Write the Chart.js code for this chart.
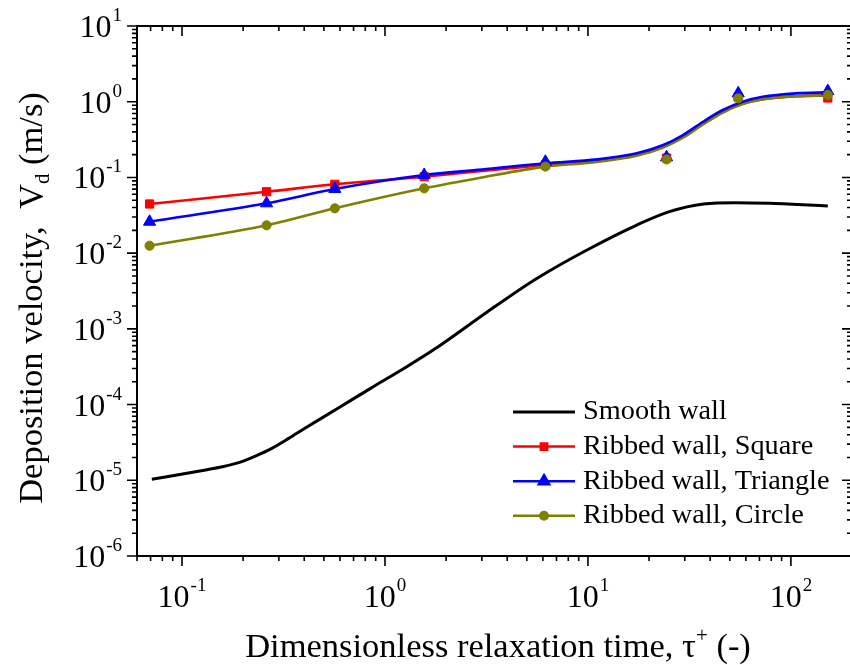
<!DOCTYPE html>
<html>
<head>
<meta charset="utf-8">
<script src="https://cdn.jsdelivr.net/npm/chart.js@4.4.1/dist/chart.umd.min.js"></script>
<style>
  html, body { margin: 0; padding: 0; background: #fff; overflow: hidden; }
  #wrap { width: 850px; height: 665px; overflow: hidden; }
  #chart { display: block; width: 860px; height: 665px; }
</style>
</head>
<body>
<div id="wrap"><canvas id="chart" width="860" height="665"></canvas></div>
<script>
// smooth wall curve
const tauSmooth = [0.071, 0.1306, 0.158, 0.19, 0.23, 0.277, 0.334, 0.405, 0.589, 0.853, 1.25, 1.82, 3.2, 5.62, 9.89, 17.4, 25.2, 37.1, 53.7, 78, 114.5, 152];
const vdSmooth  = [1.03e-5, 1.37e-5, 1.51e-5, 1.71e-5, 2.09e-5, 2.64e-5, 3.55e-5, 4.9e-5, 9.0e-5, 1.65e-4, 3.04e-4, 5.75e-4, 1.68e-3, 4.65e-3, 0.011, 0.0235, 0.0353, 0.0446, 0.0464, 0.0455, 0.0436, 0.0419];

// ribbed wall fitted curves
const tauRibCurve     = [0.0692, 0.261, 0.566, 1.56, 3.0, 6.17, 11.1, 17.4, 23.5, 29.4, 36.9, 46.2, 57.9, 72.6, 106, 152];
const vdSquareCurve   = [0.0446, 0.0647, 0.0811, 0.102, 0.122, 0.146, 0.165, 0.198, 0.255, 0.345, 0.51, 0.73, 0.94, 1.08, 1.18, 1.21];
const vdTriangleCurve = [0.026, 0.0455, 0.0703, 0.1076, 0.127, 0.154, 0.173, 0.208, 0.268, 0.363, 0.544, 0.777, 1.0, 1.16, 1.29, 1.33];
const vdCircleCurve   = [0.01253, 0.0233, 0.0391, 0.0718, 0.1, 0.139, 0.16, 0.193, 0.248, 0.335, 0.5, 0.72, 0.93, 1.07, 1.18, 1.21];

// ribbed wall data points
const tauRib     = [0.0692, 0.261, 0.566, 1.56, 6.17, 24.4, 55, 152];
const vdSquare   = [0.0446, 0.0647, 0.0811, 0.102, 0.146, 0.18, 1.15, 1.12];
const vdTriangle = [0.026, 0.0455, 0.0703, 0.1076, 0.161, 0.1845, 1.29, 1.38];
const vdCircle   = [0.01253, 0.0233, 0.0391, 0.0718, 0.139, 0.173, 1.11, 1.23];

const xTickValues = [0.1, 1, 10, 100];
const yTickValues = [1e-6, 1e-5, 1e-4, 1e-3, 1e-2, 1e-1, 1, 10];

const RED = '#ff0000', BLUE = '#0000ff', OLIVE = '#808000';
const serif = '"Liberation Serif", "Times New Roman", serif';

const pts = (xs, ys) => xs.map((x, i) => ({x: x, y: ys[i]}));
const expOf = v => String(Math.round(Math.log10(v)));

// all 1..9 x 10^n positions between min and max, for the tick marks
function decadeTicks(min, max) {
  const out = [];
  for (let e = Math.floor(Math.log10(min)); e <= Math.ceil(Math.log10(max)); e++) {
    for (let m = 1; m <= 9; m++) {
      const v = m * Math.pow(10, e);
      if (v >= min * 0.999999 && v <= max * 1.000001) out.push({v: v, major: m === 1});
    }
  }
  return out;
}

const legendItems = [
  {text: 'Smooth wall', color: '#000', style: false},
  {text: 'Ribbed wall, Square', color: RED, style: 'rect', r: 4.5},
  {text: 'Ribbed wall, Triangle', color: BLUE, style: 'triangle', r: 6},
  {text: 'Ribbed wall, Circle', color: OLIVE, style: 'circle', r: 3.8}
];

const BASE_FONT = '32px ' + serif, EXP_FONT = '19px ' + serif;

// "10" with a raised exponent; align: 'center' or 'right' about px
function powerLabel(ctx, v, px, baseline, align) {
  const e = expOf(v);
  ctx.font = BASE_FONT;
  const w1 = ctx.measureText('10').width;
  ctx.font = EXP_FONT;
  const w2 = ctx.measureText(e).width;
  const x0 = align === 'right' ? px - w1 - w2 - 1 : px - (w1 + w2 + 1) / 2;
  ctx.font = BASE_FONT;
  ctx.fillText('10', x0, baseline);
  ctx.font = EXP_FONT;
  ctx.fillText(e, x0 + w1 + 1, baseline - 16);
}

function drawParts(ctx, parts, cx, base) {
  let w = 0;
  parts.forEach(p => { ctx.font = p[1]; w += ctx.measureText(p[0]).width; });
  let px = cx - w / 2;
  parts.forEach(p => {
    ctx.font = p[1];
    ctx.fillText(p[0], px, base + p[2]);
    px += ctx.measureText(p[0]).width;
  });
}

const decor = {
  id: 'decor',
  afterDraw(chart) {
    const ctx = chart.ctx;
    const a = chart.chartArea;
    const x = chart.scales.x, y = chart.scales.y;
    ctx.save();
    ctx.strokeStyle = '#000';
    ctx.lineWidth = 2;
    ctx.strokeRect(a.left, a.top, a.right - a.left, a.bottom - a.top);

    ctx.lineWidth = 1.6;
    ctx.beginPath();
    decadeTicks(x.min, x.max).forEach(t => {
      const px = x.getPixelForValue(t.v);
      const len = t.major ? 10 : 5;
      ctx.moveTo(px, a.bottom); ctx.lineTo(px, a.bottom + len);
      ctx.moveTo(px, a.top); ctx.lineTo(px, a.top + len);
    });
    decadeTicks(y.min, y.max).forEach(t => {
      const py = y.getPixelForValue(t.v);
      const len = t.major ? 10 : 5;
      ctx.moveTo(a.left, py); ctx.lineTo(a.left - len, py);
      ctx.moveTo(a.right, py); ctx.lineTo(a.right - len, py);
    });
    ctx.stroke();

    // tick labels
    ctx.fillStyle = '#000';
    ctx.textAlign = 'left';
    ctx.textBaseline = 'alphabetic';
    xTickValues.forEach(v => powerLabel(ctx, v, x.getPixelForValue(v), a.bottom + 51, 'center'));
    yTickValues.forEach(v => powerLabel(ctx, v, a.left - 15, y.getPixelForValue(v) + 11, 'right'));

    // legend
    ctx.font = '28.3px ' + serif;
    ctx.textBaseline = 'middle';
    legendItems.forEach((it, i) => {
      const ly = 412 + i * 34.6;
      ctx.strokeStyle = it.color;
      ctx.lineWidth = it.style ? 2.5 : 3;
      ctx.beginPath();
      ctx.moveTo(513, ly); ctx.lineTo(575, ly);
      ctx.stroke();
      if (it.style) {
        ctx.fillStyle = it.color;
        Chart.helpers.drawPoint(ctx, {pointStyle: it.style, radius: it.r, rotation: 0, borderWidth: 1}, 544, ly);
        ctx.fill();
      }
      ctx.fillStyle = '#000';
      ctx.fillText(it.text, 583, ly);
    });

    // x title with superscript
    ctx.textBaseline = 'alphabetic';
    const big = '34.5px ' + serif, small = '21px ' + serif;
    drawParts(ctx, [['Dimensionless relaxation time, \u03C4', big, 0], ['+', small, -15], [' (-)', big, 0]], 498, 657);

    // y title with subscript, rotated
    ctx.translate(42, 298);
    ctx.rotate(-Math.PI / 2);
    drawParts(ctx, [['Deposition velocity,  V', big, 0], ['d', small, 7], [' (m/s)', big, 0]], 0, 0);
    ctx.restore();
  }
};

new Chart(document.getElementById('chart').getContext('2d'), {
  type: 'scatter',
  data: {
    datasets: [
      {label: 'Ribbed wall, Circle', data: pts(tauRib, vdCircle), showLine: false,
        pointStyle: 'circle', pointRadius: 4.6, backgroundColor: OLIVE, borderColor: OLIVE, order: 0},
      {label: 'Ribbed wall, Triangle', data: pts(tauRib, vdTriangle), showLine: false,
        pointStyle: 'triangle', pointRadius: 7, backgroundColor: BLUE, borderColor: BLUE, order: 1},
      {label: 'Ribbed wall, Square', data: pts(tauRib, vdSquare), showLine: false,
        pointStyle: 'rect', pointRadius: 5.8, backgroundColor: RED, borderColor: RED, order: 2},
      {label: 'Triangle fit', data: pts(tauRibCurve, vdTriangleCurve), showLine: true, pointRadius: 0,
        borderColor: BLUE, borderWidth: 2.6, cubicInterpolationMode: 'monotone', order: 3},
      {label: 'Circle fit', data: pts(tauRibCurve, vdCircleCurve), showLine: true, pointRadius: 0,
        borderColor: OLIVE, borderWidth: 2.6, cubicInterpolationMode: 'monotone', order: 4},
      {label: 'Square fit', data: pts(tauRibCurve, vdSquareCurve), showLine: true, pointRadius: 0,
        borderColor: RED, borderWidth: 2.6, cubicInterpolationMode: 'monotone', order: 5},
      {label: 'Smooth wall', data: pts(tauSmooth, vdSmooth), showLine: true, pointRadius: 0,
        borderColor: '#000', borderWidth: 3, cubicInterpolationMode: 'monotone', order: 6}
    ]
  },
  options: {
    responsive: false,
    animation: false,
    events: [],
    layout: { padding: { top: 26, right: 4, left: 0, bottom: 0 } },
    plugins: { legend: { display: false }, tooltip: { enabled: false } },
    scales: {
      x: {
        type: 'logarithmic', position: 'bottom', min: 0.06, max: 200,
        grid: { display: false, drawTicks: false }, border: { display: false },
        ticks: { display: false },
        afterBuildTicks: s => { s.ticks = xTickValues.map(v => ({value: v})); },
        afterFit: s => { s.height = 109; }
      },
      y: {
        type: 'logarithmic', position: 'left', min: 1e-6, max: 10,
        grid: { display: false, drawTicks: false }, border: { display: false },
        ticks: { display: false },
        afterBuildTicks: s => { s.ticks = yTickValues.map(v => ({value: v})); },
        afterFit: s => { s.width = 137; }
      }
    }
  },
  plugins: [decor]
});
</script>
</body>
</html>
